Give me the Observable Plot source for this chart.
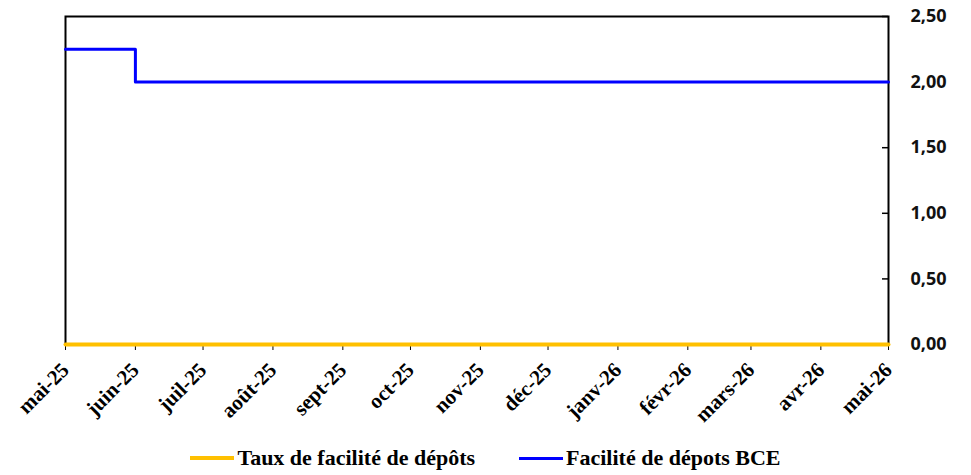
<!DOCTYPE html>
<html><head><meta charset="utf-8">
<script src="https://cdn.jsdelivr.net/npm/d3@7"></script>
<script src="https://cdn.jsdelivr.net/npm/@observablehq/plot@0.6"></script>
<style>
body{margin:0;background:#fff;}
#legend{display:flex;justify-content:center;gap:44px;font-family:"Liberation Serif",serif;font-weight:bold;font-size:22px;color:#000;margin-top:8px;line-height:26px;}
#legend span.item{display:flex;align-items:center;}
#legend span.sw{display:inline-block;width:44px;margin-right:3px;}
</style></head><body>
<div id="chart"></div>
<div id="legend"></div>
<script>
const tickDates = ["2025-05-01","2025-06-01","2025-07-01","2025-08-01","2025-09-01","2025-10-01","2025-11-01","2025-12-01","2026-01-01","2026-02-01","2026-03-01","2026-04-01","2026-05-01"];
const tickLabels = ["mai-25","juin-25","juil-25","août-25","sept-25","oct-25","nov-25","déc-25","janv-26","févr-26","mars-26","avr-26","mai-26"];
const yTicks = [0,0.5,1,1.5,2,2.5];

const bceDates = ["2025-05-01","2025-06-01","2026-05-01"];
const bceValues = [2.25,2.00,2.00];
const tauxDates = ["2025-05-01","2026-05-01"];
const tauxValues = [0,0];

const seriesNames = ["Taux de facilité de dépôts","Facilité de dépots BCE"];
const seriesColors = ["#FFC000","#0000FF"];

const parse = d3.utcParse("%Y-%m-%d");
const ticks = tickDates.map(parse);
const labelMap = new Map(ticks.map((d,i)=>[+d,tickLabels[i]]));
const bce = bceDates.map((d,i)=>({date:parse(d),value:bceValues[i]}));
const taux = tauxDates.map((d,i)=>({date:parse(d),value:tauxValues[i]}));
const fmt = v => d3.format(".2f")(v).replace(".",",");

const chart = Plot.plot({
  width:971, height:437,
  marginLeft:65, marginRight:83, marginTop:16, marginBottom:93,
  x:{type:"utc", domain:[ticks[0],ticks[ticks.length-1]]},
  y:{domain:[0,2.5]},
  marks:[
    Plot.frame({stroke:"#000", strokeWidth:2}),
    Plot.ruleY(yTicks,{stroke:"#000",strokeWidth:1.5,insetLeft:817}),
    Plot.axisY({anchor:"right", ticks:yTicks, tickFormat:fmt, tickSize:0, tickPadding:22, label:null,
      fontFamily:"'Open Sans',sans-serif", fontWeight:"bold", fontSize:18, fill:"#111"}),
    Plot.axisX({ticks:ticks, tickSize:6, label:null, text:null, stroke:"#000"}),
    Plot.axisX({ticks:ticks, tickFormat:d=>labelMap.get(+d), tickRotate:-45, tickSize:0, tickPadding:22, label:null,
      fontFamily:"'Liberation Serif',serif", fontWeight:"bold", fontSize:21, fill:"#000"}),
    Plot.lineY(bce,{x:"date",y:"value",curve:"step-after",stroke:seriesColors[1],strokeWidth:3}),
    Plot.lineY(taux,{x:"date",y:"value",stroke:seriesColors[0],strokeWidth:4})
  ]
});
document.getElementById("chart").appendChild(chart);

const lg = document.getElementById("legend");
seriesNames.forEach((n,i)=>{
  const it = document.createElement("span"); it.className="item";
  const sw = document.createElement("span"); sw.className="sw";
  sw.style.borderTop = (i===0?4:3)+"px solid "+seriesColors[i];
  it.appendChild(sw);
  it.appendChild(document.createTextNode(n));
  lg.appendChild(it);
});
</script>
</body></html>
